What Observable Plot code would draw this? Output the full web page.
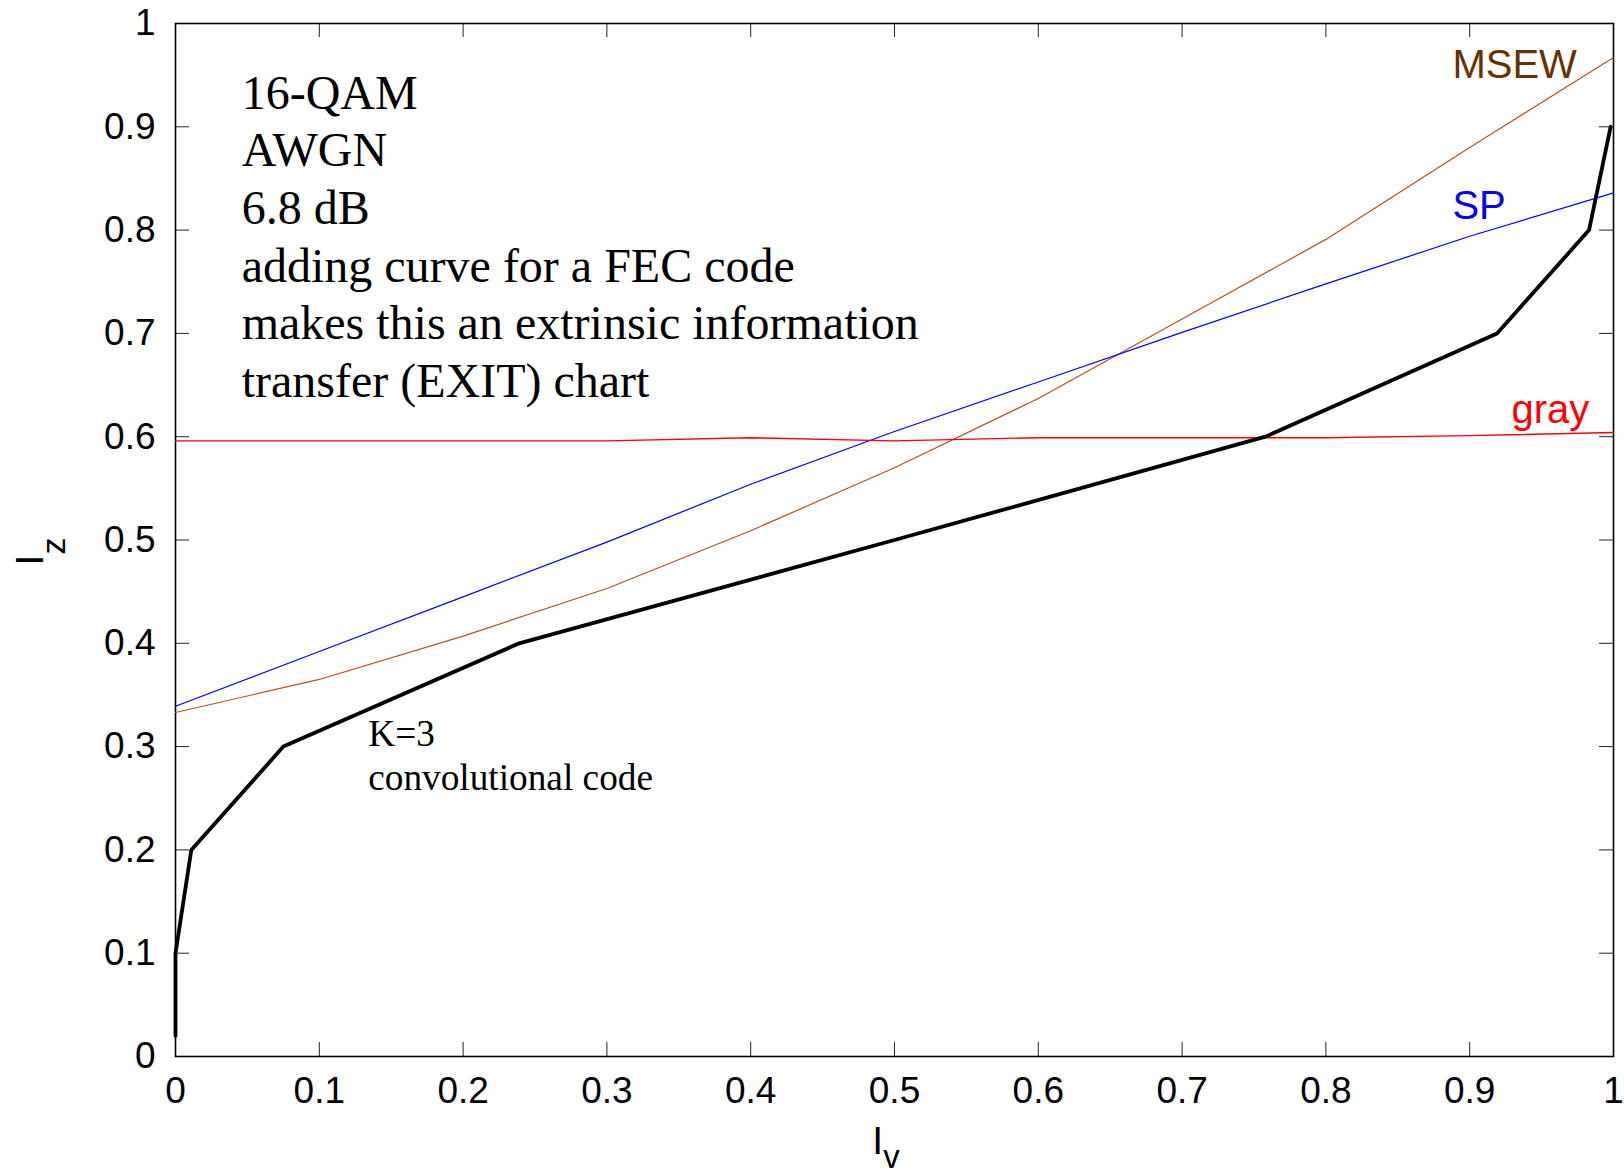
<!DOCTYPE html>
<html>
<head>
<meta charset="utf-8">
<script src="https://cdn.jsdelivr.net/npm/d3@7"></script>
<script src="https://cdn.jsdelivr.net/npm/@observablehq/plot@0.6"></script>
<style>
  html, body { margin: 0; padding: 0; background: #fff; }
</style>
</head>
<body>
<div id="chart"></div>
<script>
// A-priori mutual information I_V at which the demapper curves were evaluated
const iv = [0, 0.1, 0.2, 0.3, 0.4, 0.5, 0.6, 0.7, 0.8, 0.9, 1.0];

// Demapper transfer curves I_Z(I_V) for three 16-QAM bit mappings
const spCurve   = [0.339, 0.392, 0.445, 0.498, 0.554, 0.605, 0.653, 0.701, 0.748, 0.794, 0.836];
const msewCurve = [0.333, 0.365, 0.407, 0.453, 0.509, 0.570, 0.637, 0.714, 0.791, 0.880, 0.967];
const grayCurve = [0.596, 0.596, 0.596, 0.596, 0.599, 0.596, 0.599, 0.599, 0.599, 0.601, 0.604];

// K=3 convolutional decoder curve, drawn with swapped axes
const codeIv = [0, 0, 0.011, 0.075, 0.239, 0.500, 0.758, 0.919, 0.983, 0.998];
const codeIz = [0.02, 0.1, 0.2, 0.3, 0.4, 0.5, 0.6, 0.7, 0.8, 0.9];

const tickValues = [0, 0.1, 0.2, 0.3, 0.4, 0.5, 0.6, 0.7, 0.8, 0.9, 1];

const infoLines = [
  "16-QAM",
  "AWGN",
  "6.8 dB",
  "adding curve for a FEC code",
  "makes this an extrinsic information",
  "transfer (EXIT) chart"
];
const codeLines = ["K=3", "convolutional code"];

const seriesNames  = ["MSEW", "SP", "gray"];
const lineColors   = {MSEW: "#b4531f", SP: "#0000ff", gray: "#ff0000"};
const labelColors  = {MSEW: "#663300", SP: "#0000ff", gray: "#ff0000"};

const curves = {MSEW: msewCurve, SP: spCurve, gray: grayCurve};
const demapRows = seriesNames.flatMap(name =>
  iv.map((x, i) => ({iv: x, iz: curves[name][i], mapping: name}))
);
const codeRows = codeIv.map((x, i) => ({iv: x, iz: codeIz[i]}));

// series labels placed near the right end of each curve
const seriesLabels = [
  {name: "MSEW", iv: 0.888, iz: 0.947},
  {name: "SP",   iv: 0.888, iz: 0.811},
  {name: "gray", iv: 0.929, iz: 0.613}
];

const W = 1624, H = 1176;
const mL = 175, mR = 11, mT = 23, mB = 120;
const innerW = W - mL - mR, innerH = H - mT - mB;
const tick = 14;
const fmt = d3.format("~g");
const sans = "'Liberation Sans', Arial, Helvetica, sans-serif";
const serif = "'Liberation Serif', 'Times New Roman', Times, serif";

const plot = Plot.plot({
  width: W,
  height: H,
  marginLeft: mL,
  marginRight: mR,
  marginTop: mT,
  marginBottom: mB,
  style: {fontFamily: sans, fontSize: "37px", background: "#fff", color: "#000"},
  x: {domain: [0, 1]},
  y: {domain: [0, 1]},
  marks: [
    // inward ticks with labels on the left and bottom
    Plot.axisY(tickValues, {anchor: "left", tickSize: tick, dx: tick, tickPadding: 20,
      tickFormat: fmt, label: null, fontSize: 37, stroke: "#222"}),
    Plot.axisX(tickValues, {anchor: "bottom", tickSize: tick, dy: -tick, tickPadding: 20,
      tickFormat: fmt, label: null, fontSize: 37, stroke: "#222"}),
    // inward ticks on the top and right sides
    Plot.gridX(tickValues, {stroke: "#222", strokeOpacity: 1, strokeWidth: 1, insetBottom: innerH - tick}),
    Plot.gridY(tickValues, {stroke: "#222", strokeOpacity: 1, strokeWidth: 1, insetLeft: innerW - tick}),
    Plot.frame({stroke: "#000", strokeWidth: 1.6}),

    // demapper curves
    Plot.line(demapRows, {x: "iv", y: "iz", z: "mapping",
      stroke: d => lineColors[d.mapping], strokeWidth: d => d.mapping === "gray" ? 1.4 : 1.2}),

    // decoder curve
    Plot.line(codeRows, {x: "iv", y: "iz", stroke: "#000", strokeWidth: 3.8, strokeLinejoin: "miter"}),

    // curve labels
    Plot.text(seriesLabels, {x: "iv", y: "iz", text: "name", textAnchor: "start", lineAnchor: "bottom",
      fill: d => labelColors[d.name], fontSize: 40, fontFamily: sans}),

    // explanatory notes
    Plot.text([infoLines.join("\n")], {x: 0.046, y: 0.957, textAnchor: "start", lineAnchor: "top",
      lineHeight: 1.2, fontSize: 48, fontFamily: serif, fill: "#000"}),
    Plot.text([codeLines.join("\n")], {x: 0.134, y: 0.331, textAnchor: "start", lineAnchor: "top",
      lineHeight: 1.18, fontSize: 37.3, fontFamily: serif, fill: "#000"})
  ]
});

// axis titles with subscripts
const svg = d3.select(plot);
const xs = plot.scale("x"), ys = plot.scale("y");

const xTitle = svg.append("text")
  .attr("x", xs.apply(0.5) - 8)
  .attr("y", H - 22)
  .attr("text-anchor", "middle")
  .attr("font-family", sans)
  .attr("font-size", 39)
  .attr("fill", "#000");
xTitle.append("tspan").text("I");
xTitle.append("tspan").attr("font-size", 33).attr("dy", 14).text("v");

const yTitle = svg.append("text")
  .attr("transform", `translate(43,${ys.apply(0.5) + 12}) rotate(-90)`)
  .attr("text-anchor", "middle")
  .attr("font-family", sans)
  .attr("font-size", 39)
  .attr("fill", "#000");
yTitle.append("tspan").text("I");
yTitle.append("tspan").attr("font-size", 34).attr("dy", 22).text("z");

document.getElementById("chart").appendChild(plot);
</script>
</body>
</html>
